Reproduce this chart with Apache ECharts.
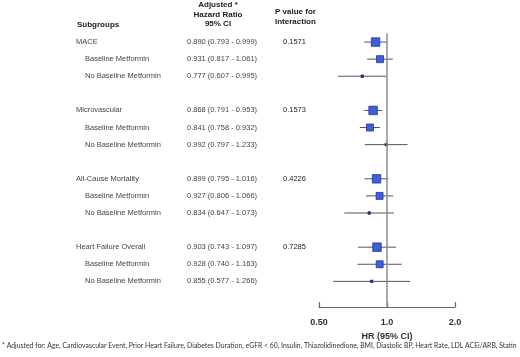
<!DOCTYPE html>
<html>
<head>
<meta charset="utf-8">
<script src="https://cdn.jsdelivr.net/npm/echarts@6/dist/echarts.min.js"></script>
<style>
html,body{margin:0;padding:0;background:#fff;}
#chart{width:520px;height:357px;}
</style>
</head>
<body>
<div id="chart"></div>
<script>
// ---- data ----
const subgroups = ['MACE','Baseline Metformin','No Baseline Metformin',
  'Microvascular','Baseline Metformin','No Baseline Metformin',
  'All-Cause Mortality','Baseline Metformin','No Baseline Metformin',
  'Heart Failure Overall','Baseline Metformin','No Baseline Metformin'];
const levels = [0,1,1, 0,1,1, 0,1,1, 0,1,1];
const hr    = [0.890,0.931,0.777, 0.868,0.841,0.992, 0.899,0.927,0.834, 0.903,0.928,0.855];
const lower = [0.793,0.817,0.607, 0.791,0.758,0.797, 0.795,0.806,0.647, 0.743,0.740,0.577];
const upper = [0.999,1.061,0.995, 0.953,0.932,1.233, 1.016,1.066,1.073, 1.097,1.163,1.266];
const pInteraction = ['0.1571','','', '0.1573','','', '0.4226','','', '0.7285','',''];
const weights = [8.5,7,2.5, 8.5,7,2.5, 8.5,7,2.5, 8.5,7,2.5];
const xTicks = [0.5, 1, 2];
const xTickLabels = ['0.50','1.0','2.0'];
const footnote = '* Adjusted for: Age, Cardiovascular Event, Prior Heart Failure, Diabetes Duration, eGFR < 60, Insulin, Thiazolidinedione, BMI, Diastolic BP, Heart Rate, LDL ACEi/ARB, Statin';

// ---- layout helpers ----
const NCAT = 16;
const rowToCat = i => i + Math.floor(i / 3);
const categories = [];
for (let c = 0; c < NCAT; c++) categories.push('c' + c);
const catLabel = new Array(NCAT).fill('');
const catLevel = new Array(NCAT).fill(-1);
const catHR = new Array(NCAT).fill('');
const catP = new Array(NCAT).fill('');
const fmt = v => v.toFixed(3);
subgroups.forEach((s, i) => {
  const c = rowToCat(i);
  catLabel[c] = s;
  catLevel[c] = levels[i];
  catHR[c] = fmt(hr[i]) + ' (' + fmt(lower[i]) + ' - ' + fmt(upper[i]) + ')';
  catP[c] = pInteraction[i];
});

const FONT = '"Liberation Sans", Arial, sans-serif';
const GRID_LEFT = 319;

// fit footnote width
const cv = document.createElement('canvas').getContext('2d');
cv.font = '10px Lato';
const fnSize = Math.min(7.5, 10 * 515 / cv.measureText(footnote).width);

const chart = echarts.init(document.getElementById('chart'), null, {renderer: 'canvas'});

const baseY = {
  type: 'category', data: categories, inverse: true, position: 'left',
  boundaryGap: true,
  axisLine: {show: false}, axisTick: {show: false}, splitLine: {show: false}
};

const option = {
  animation: false,
  backgroundColor: '#fff',
  grid: {left: GRID_LEFT, right: 65, top: 33.5, bottom: 50, containLabel: false},
  xAxis: {
    type: 'log', logBase: 2, min: 0.5, max: 2,
    axisLine: {show: true, lineStyle: {color: '#666', width: 1.2}},
    axisTick: {show: true, inside: true, length: 5, lineStyle: {color: '#666', width: 1.2}},
    splitLine: {show: false},
    minorTick: {show: false},
    axisLabel: {
      margin: 11, fontSize: 9, fontWeight: 'bold', color: '#333', fontFamily: FONT,
      formatter: v => {
        let best = 0;
        xTicks.forEach((t, k) => { if (Math.abs(Math.log(t) - Math.log(v)) < Math.abs(Math.log(xTicks[best]) - Math.log(v))) best = k; });
        return xTickLabels[best];
      }
    },
    name: 'HR (95% CI)', nameLocation: 'middle', nameGap: 20,
    nameTextStyle: {fontSize: 9, fontWeight: 'bold', color: '#333', fontFamily: FONT}
  },
  yAxis: [
    Object.assign({}, baseY, {
      axisLabel: {
        interval: 0, align: 'left', margin: GRID_LEFT - 76,
        formatter: (v, idx) => catLabel[idx] ? (catLevel[idx] === 0 ? '{g|' + catLabel[idx] + '}' : '{s|' + catLabel[idx] + '}') : '',
        rich: {
          g: {fontSize: 7.5, color: '#444', fontFamily: FONT},
          s: {fontSize: 7.5, color: '#444', fontFamily: FONT, padding: [0, 0, 0, 9]}
        }
      }
    }),
    Object.assign({}, baseY, {
      axisLabel: {
        interval: 0, align: 'left', margin: GRID_LEFT - 187,
        fontSize: 7.5, color: '#444', fontFamily: FONT,
        formatter: (v, idx) => catHR[idx]
      }
    }),
    Object.assign({}, baseY, {
      axisLabel: {
        interval: 0, align: 'left', margin: GRID_LEFT - 283,
        fontSize: 7.5, color: '#222', fontFamily: FONT,
        formatter: (v, idx) => catP[idx]
      }
    })
  ],
  series: [
    {
      type: 'custom', yAxisIndex: 0, z: 2,
      data: subgroups.map((s, i) => [lower[i], rowToCat(i), upper[i]]),
      encode: {x: [0, 2], y: 1},
      renderItem: (params, api) => {
        const p1 = api.coord([api.value(0), api.value(1)]);
        const p2 = api.coord([api.value(2), api.value(1)]);
        return {
          type: 'line',
          shape: {x1: p1[0], y1: p1[1], x2: p2[0], y2: p2[1]},
          style: {stroke: '#555', lineWidth: 1}
        };
      },
      silent: true
    },
    {
      type: 'scatter', yAxisIndex: 0, z: 3,
      symbol: 'rect',
      data: subgroups.map((s, i) => [hr[i], rowToCat(i)]),
      symbolSize: (val, params) => weights[params.dataIndex],
      itemStyle: {
        color: params => weights[params.dataIndex] < 4 ? '#1c2550' : '#3d5fd8',
        borderColor: '#1f3a9a', borderWidth: 0.8, opacity: 1
      },
      markLine: {
        silent: true, symbol: 'none', animation: false,
        label: {show: false},
        lineStyle: {color: '#8c8c8c', width: 1.5, type: 'solid'},
        emphasis: {disabled: true},
        data: [{xAxis: 1}]
      }
    }
  ],
  graphic: [
    {type: 'text', left: 77, top: 20.5, style: {text: 'Subgroups', fontSize: 8, fontWeight: 'bold', fill: '#222', fontFamily: FONT}},
    {type: 'text', x: 218, y: 0.5, style: {text: 'Adjusted *\nHazard Ratio\n95% CI', fontSize: 8, lineHeight: 9.5, fontWeight: 'bold', fill: '#222', fontFamily: FONT, align: 'center'}},
    {type: 'text', x: 275, y: 7, style: {text: 'P value for\nInteraction', fontSize: 8, lineHeight: 10, fontWeight: 'bold', fill: '#222', fontFamily: FONT, align: 'left'}},
    {type: 'text', x: 2, y: 342.5, style: {text: footnote, fontSize: fnSize, fill: '#333', fontFamily: 'Lato, sans-serif'}}
  ]
};
chart.setOption(option);
</script>
</body>
</html>
